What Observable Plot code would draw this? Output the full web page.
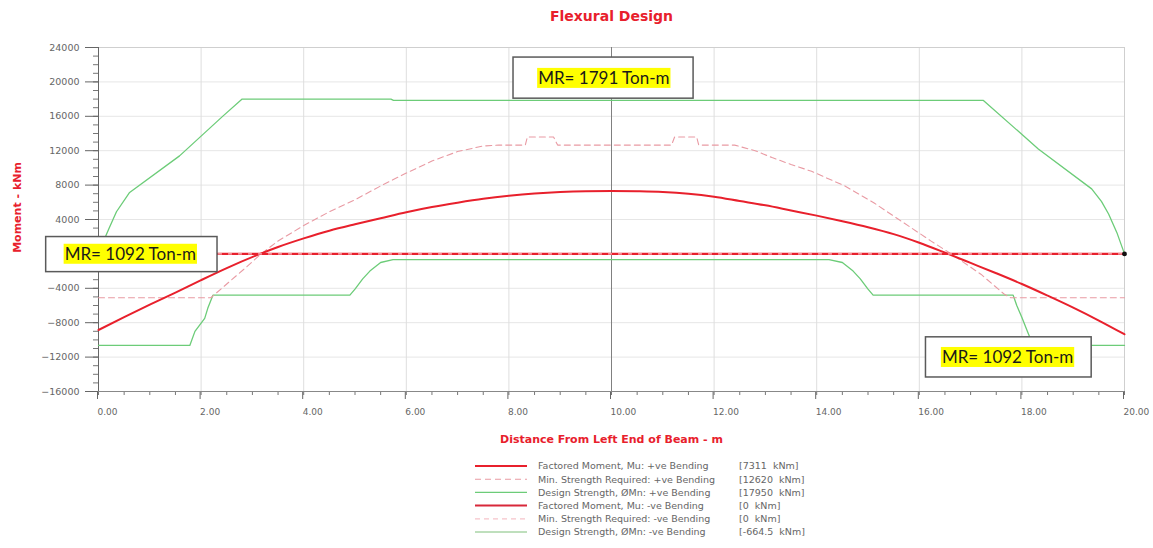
<!DOCTYPE html>
<html><head><meta charset="utf-8">
<script src="https://cdn.jsdelivr.net/npm/d3@7"></script>
<script src="https://cdn.jsdelivr.net/npm/@observablehq/plot@0.6"></script>
<style>
body{margin:0;background:#fff;font-family:"DejaVu Sans",Arial,sans-serif;}
#chart,#legend{width:1153px;}
svg{display:block;}
</style></head><body><div id="chart"></div><div id="legend"></div>
<script>
// ---- data (x in m, moment in kNm) ----
const factoredPos = [[0,-8850],[0.5,-7350],[1,-5900],[1.5,-4500],[2,-3050],[2.5,-1650],[3.15,0],[3.5,800],[4,1800],[4.5,2700],[5,3450],[5.5,4150],[6,4850],[6.5,5450],[7,5950],[7.5,6400],[8,6750],[8.5,7020],[9,7200],[9.5,7290],[10,7311],[10.5,7280],[11,7200],[11.5,7000],[12,6650],[12.5,6150],[13,5650],[13.5,5050],[14,4450],[14.5,3800],[15,3100],[15.5,2300],[16,1300],[16.56,0],[17,-1050],[17.5,-2250],[18,-3500],[18.5,-4850],[19,-6250],[19.5,-7750],[20,-9350]];
const minReqPos = [[0,-5100],[2.19,-5100],[2.5,-3500],[2.85,-1700],[3.17,0],[3.5,1500],[4,3300],[4.5,4900],[5,6300],[5.5,7900],[6,9400],[6.5,10800],[7,11900],[7.5,12550],[7.8,12650],[8.32,12650],[8.36,13600],[8.87,13600],[8.95,12650],[11.17,12650],[11.23,13600],[11.66,13600],[11.7,12650],[12.4,12650],[12.8,12000],[13.13,11200],[13.5,10400],[13.9,9600],[14.55,7900],[15.12,5920],[15.6,4000],[16.23,1490],[16.62,0],[17.2,-2360],[17.66,-4700],[17.78,-5100],[20,-5100]];
const designPos = [[0,0],[0.1,1500],[0.2,2900],[0.35,4900],[0.6,7100],[1.58,11400],[2.43,16050],[2.8,18000],[5.7,18000],[5.75,17850],[17.25,17850],[18.32,12200],[19.36,7560],[19.55,6100],[19.69,4640],[19.85,2500],[20,0]];
const factoredNeg = [[0,0],[20,0]];
const minReqNeg = [[0,0],[20,0]];
const designNeg = [[0,-10640],[1.78,-10640],[1.88,-9010],[2.07,-7500],[2.13,-6330],[2.23,-4800],[4.9,-4800],[5.0,-4100],[5.15,-2900],[5.29,-2000],[5.5,-1000],[5.74,-664.5],[14.24,-664.5],[14.5,-1000],[14.71,-2000],[14.85,-2900],[15.0,-4100],[15.1,-4800],[17.83,-4800],[17.9,-6000],[18.0,-7400],[18.12,-9200],[18.22,-10640],[20,-10640]];
const endPoint = [[20,0]];

const xTicks = [0,2,4,6,8,10,12,14,16,18,20];
const yTicks = [-16000,-12000,-8000,-4000,0,4000,8000,12000,16000,20000,24000];
const xMinor = d3.range(0,20.01,0.5);
const yMinor = d3.range(-16000,24001,1000);

const legendNames = ["Factored Moment, Mu: +ve Bending","Min. Strength Required: +ve Bending","Design Strength, ØMn: +ve Bending","Factored Moment, Mu: -ve Bending","Min. Strength Required: -ve Bending","Design Strength, ØMn: -ve Bending"];
const legendValues = ["[7311  kNm]","[12620  kNm]","[17950  kNm]","[0  kNm]","[0  kNm]","[-664.5  kNm]"];

const notes = [
  {label:"MR= 1791 Ton-m", x1:8.09, x2:11.6, y1:18050, y2:22830, x:9.85, y:20400},
  {label:"MR= 1092 Ton-m", x1:-1.02, x2:2.32, y1:-2120, y2:1960, x:0.62, y:-50},
  {label:"MR= 1092 Ton-m", x1:16.13, x2:19.36, y1:-14370, y2:-9700, x:17.72, y:-12050}
];

// ---- styles ----
const RED = "#e8202c", PINK = "#e99aa3", LPINK = "#f6c4ca", GREEN = "#6ccc78", GREEN2 = "#7fbf7a";
const FONT = "DejaVu Sans, sans-serif";
const fx = d => d[0], fy = d => d[1];

const chart = Plot.plot({
  width: 1153, height: 452,
  marginTop: 47, marginBottom: 61, marginLeft: 98, marginRight: 29,
  x: {domain: [0, 20]},
  y: {domain: [-16000, 24000]},
  style: {fontFamily: FONT, background: "#fff"},
  marks: [
    Plot.gridY(yTicks, {stroke: "#e6e6e6", strokeOpacity: 1}),
    Plot.gridX(xTicks.filter(d => d > 0 && d < 20), {stroke: "#dedede", strokeOpacity: 1}),
    Plot.ruleY([24000], {stroke: "#cfcfcf"}),
    Plot.ruleX([20], {stroke: "#cfcfcf"}),
    Plot.ruleX([10], {stroke: "#808080", strokeWidth: 1}),
    Plot.axisX(xMinor, {tickSize: 4, text: null, stroke: "#777"}),
    Plot.axisX(xTicks, {tickSize: 8, tickPadding: 9, tickFormat: d3.format(".2f"), textAnchor: "start", dx: -1, fontSize: 9, fill: "#666", stroke: "#666"}),
    Plot.axisY(yMinor, {tickSize: 5, text: null, stroke: "#777"}),
    Plot.axisY(yTicks, {tickSize: 13, tickPadding: 6, tickFormat: d => d === 0 ? "" : d3.format("d")(d), fontSize: 9.5, fill: "#666", stroke: "#666"}),
    Plot.ruleX([0], {stroke: "#666"}),
    Plot.ruleY([-16000], {stroke: "#888"}),
    Plot.line(designNeg, {x: fx, y: fy, stroke: GREEN, strokeWidth: 1.3}),
    Plot.line(designPos, {x: fx, y: fy, stroke: GREEN, strokeWidth: 1.3}),
    Plot.line(minReqPos, {x: fx, y: fy, stroke: PINK, strokeWidth: 1.1, strokeDasharray: "6,4"}),
    Plot.line(factoredPos, {x: fx, y: fy, stroke: RED, strokeWidth: 2, curve: "monotone-x"}),
    Plot.line(factoredNeg, {x: fx, y: fy, stroke: RED, strokeWidth: 2.2}),
    Plot.line(minReqNeg, {x: fx, y: fy, stroke: "#f7b8c0", strokeWidth: 1.2, strokeDasharray: "3,7"}),
    Plot.dot(endPoint, {x: fx, y: fy, r: 2.4, fill: "#111"}),
    Plot.rect(notes, {x1: "x1", x2: "x2", y1: "y1", y2: "y2", fill: "#fff", stroke: "#5a5a5a", strokeWidth: 1.5}),
    Plot.text(notes, {x: "x", y: "y", text: "label", fontSize: 17, fontFamily: "Lato, sans-serif", fill: "#1a1a1a", className: "note"}),
    Plot.text(["Flexural Design"], {text: d => d, frameAnchor: "top", dy: -36, fontSize: 14, fontWeight: "bold", fill: RED}),
    Plot.text(["Moment - kNm"], {text: d => d, frameAnchor: "left", textAnchor: "middle", rotate: -90, dx: -81, dy: -12, fontSize: 11, fontWeight: "bold", fill: RED}),
    Plot.text(["Distance From Left End of Beam - m"], {text: d => d, frameAnchor: "bottom", dy: 51, fontSize: 11, fontWeight: "bold", fill: RED})
  ]
});
document.getElementById("chart").appendChild(chart);

// yellow highlight behind annotation texts
d3.select(chart).selectAll("g.note text").each(function() {
  const b = this.getBBox();
  d3.select(this.parentNode).insert("rect", () => this)
    .attr("x", b.x - 1).attr("y", b.y + 1).attr("width", b.width + 2).attr("height", b.height - 1)
    .attr("fill", "#ffff00")
    .attr("transform", this.getAttribute("transform"));
});

// ---- legend ----
const legendStyles = [
  {stroke: RED, width: 2, dash: null},
  {stroke: PINK, width: 1.1, dash: "6,4"},
  {stroke: GREEN, width: 1.3, dash: null},
  {stroke: "#d8283a", width: 2, dash: null},
  {stroke: LPINK, width: 1.2, dash: "5,4"},
  {stroke: GREEN2, width: 1, dash: null}
];
const lsvg = d3.select("#legend").append("svg").attr("width", 1153).attr("height", 96);
legendNames.forEach((name, i) => {
  const y = 14 + i * 13.2;
  const s = legendStyles[i];
  lsvg.append("line").attr("x1", 475).attr("x2", 527).attr("y1", y).attr("y2", y)
    .attr("stroke", s.stroke).attr("stroke-width", s.width).attr("stroke-dasharray", s.dash);
  lsvg.append("text").attr("x", 538).attr("y", y).attr("dy", "0.35em")
    .attr("font-size", 9.5).attr("fill", "#666").text(name);
  lsvg.append("text").attr("x", 739).attr("y", y).attr("dy", "0.35em")
    .attr("font-size", 9.5).attr("fill", "#666").attr("xml:space", "preserve").text(legendValues[i]);
});
</script>
</body></html>
